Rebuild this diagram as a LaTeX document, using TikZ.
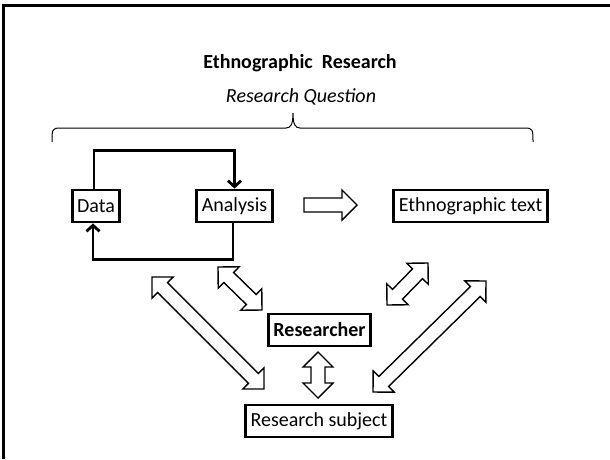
\documentclass[tikz,border=0pt]{standalone}
\usepackage{fontspec}
\setmainfont{Carlito}
\usetikzlibrary{calc,arrows.meta}

% hollow double arrow between two points
\newcommand{\hollowdbl}[2]{%
  \draw[hollow] let \p1=($(#2)-(#1)$), \n1={atan2(\y1,\x1)} in
    (#1) -- ($(#1)+(\n1:15pt)+(\n1+90:15pt)$) -- ($(#1)+(\n1:15pt)+(\n1+90:7pt)$)
    -- ($(#2)+(\n1+180:15pt)+(\n1+90:7pt)$) -- ($(#2)+(\n1+180:15pt)+(\n1+90:15pt)$)
    -- (#2) -- ($(#2)+(\n1+180:15pt)+(\n1-90:15pt)$) -- ($(#2)+(\n1+180:15pt)+(\n1-90:7pt)$)
    -- ($(#1)+(\n1:15pt)+(\n1-90:7pt)$) -- ($(#1)+(\n1:15pt)+(\n1-90:15pt)$) -- cycle;}
% hollow single arrow from #1 to #2
\newcommand{\hollowsgl}[2]{%
  \draw[hollow] let \p1=($(#2)-(#1)$), \n1={atan2(\y1,\x1)} in
    ($(#1)+(\n1+90:7pt)$) -- ($(#2)+(\n1+180:15pt)+(\n1+90:7pt)$) -- ($(#2)+(\n1+180:15pt)+(\n1+90:15pt)$)
    -- (#2) -- ($(#2)+(\n1+180:15pt)+(\n1-90:15pt)$) -- ($(#2)+(\n1+180:15pt)+(\n1-90:7pt)$)
    -- ($(#1)+(\n1-90:7pt)$) -- cycle;}

\begin{document}
\begin{tikzpicture}[x=1pt,y=-1pt]

\tikzset{
  box/.style={
    draw,
    line width=2.8pt,
    minimum height=32pt,
    inner xsep=5pt,
    font=\fontsize{20}{22}\selectfont,
  },
  hollow/.style={draw, line width=1.4pt, line join=miter},
  loopline/.style={line width=2.8pt, -{Straight Barb[length=6pt,width=13pt,line width=2.8pt]}},
}

\useasboundingbox (0,0) rectangle (610,459);

% Frame
\draw[line width=3pt] (3,459) -- (3,5) -- (610,5);

% Heading
\node[font=\fontsize{20}{22}\selectfont\bfseries] (title) at (300,63) {Ethnographic~~Research};
\node[font=\fontsize{20}{22}\selectfont\itshape] (question) at (301,97) {Research Question};
\draw[line width=1pt] (52,142) .. controls (52,130) and (52,128) .. (60,128) -- (286,128)
  .. controls (291,128) and (293,124) .. (293,113)
  .. controls (293,124) and (295,128) .. (300,128) -- (525,128)
  .. controls (533,128) and (533,130) .. (533,142);

% Boxes
\node[box] (data) at (96,206) {Data};
\node[box] (analysis) at (234.5,206) {Analysis};
\node[box] (ethno) at (470.5,206) {Ethnographic text};
\node[box, font=\fontsize{20}{22}\selectfont\bfseries] (researcher) at (319.5,330) {Researcher};
\node[box] (subject) at (319,421) {Research subject};

% Loop
\draw[loopline] ([xshift=-2pt]data.north) -- ++(0,-38) -| (analysis.north);
\draw[loopline] ([xshift=-1.5pt]analysis.south) -- ++(0,36) -| ([xshift=-3pt]data.south);

% Arrow tips
\coordinate (w1) at (304,205);
\coordinate (w2) at (357,205);
\coordinate (sl1) at (218,267);
\coordinate (sl2) at (262,310);
\coordinate (sr1) at (428,263);
\coordinate (sr2) at (387,305);
\coordinate (bl1) at (152,277);
\coordinate (bl2) at (264,389);
\coordinate (br1) at (486,281);
\coordinate (br2) at (373,392);
\coordinate (v1) at (318,352);
\coordinate (v2) at (318,398);

% Hollow arrows
\hollowsgl{w1}{w2}
\hollowdbl{sl1}{sl2}
\hollowdbl{sr1}{sr2}
\hollowdbl{bl1}{bl2}
\hollowdbl{br1}{br2}
\hollowdbl{v1}{v2}

\end{tikzpicture}
\end{document}
